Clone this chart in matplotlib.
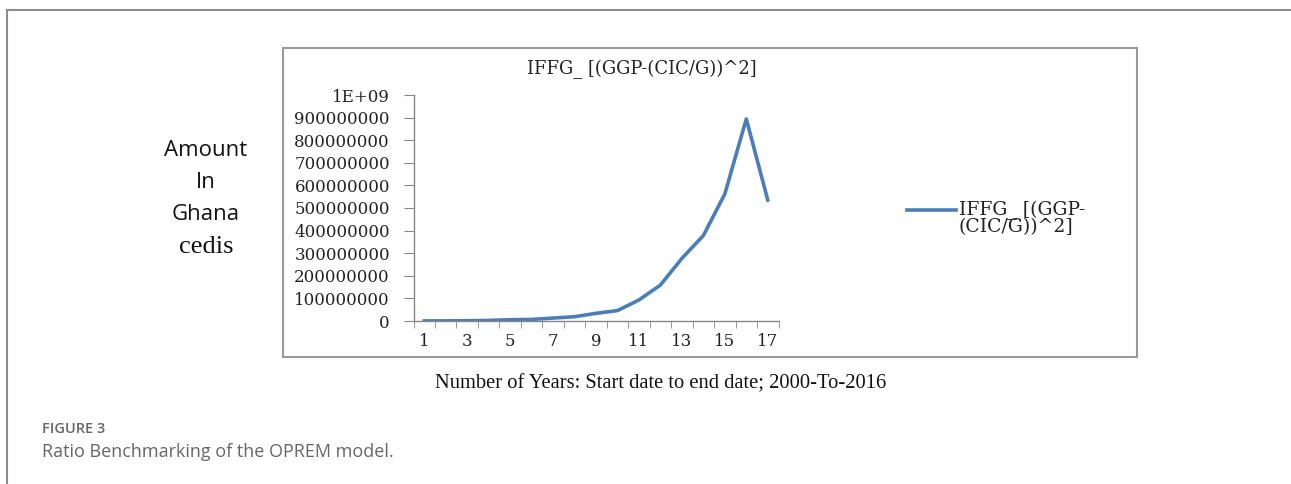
import matplotlib
matplotlib.use("Agg")
from matplotlib import pyplot as plt
from matplotlib.patches import Rectangle
from matplotlib.lines import Line2D

# data
years = list(range(1, 18))
iffg = [0.3e6, 0.6e6, 1.2e6, 2.5e6, 5.5e6, 7e6, 13e6, 19e6, 34e6, 46e6,
        93e6, 159e6, 277e6, 378e6, 562e6, 894e6, 535e6]
y_ticks = [i * 100000000 for i in range(11)]
y_tick_labels = [str(v) for v in y_ticks[:-1]] + ["1E+09"]
x_tick_labels = [str(v) if v % 2 == 1 else "" for v in years]

series_name = "IFFG_ [(GGP-(CIC/G))^2]"
legend_name = "IFFG_ [(GGP-\n(CIC/G))^2]"

W, H = 1291, 484
fig = plt.figure(figsize=(W / 100, H / 100), dpi=100)
fig.patch.set_facecolor("white")


def fx(px):
    return px / W


def fy(py):
    return 1 - py / H


# outer frame (top and left edges)
fig.add_artist(Line2D([fx(7), 1], [fy(10), fy(10)], color="#8c8c8c", lw=1.5))
fig.add_artist(Line2D([fx(7), fx(7)], [fy(10), 0], color="#8c8c8c", lw=1.5))

# chart box
fig.add_artist(Rectangle((fx(283), fy(357)), fx(1137) - fx(283), fy(48) - fy(357),
                         fill=False, edgecolor="#999999", lw=1.5))

ax = fig.add_axes([fx(413.5), fy(321), fx(778.5) - fx(413.5), fy(95) - fy(321)])
ax.plot(years, iffg, color="#4a7ebb", lw=2.6, label=legend_name)
ax.set_xlim(0.5, 17.5)
ax.set_ylim(0, 1e9)

serif = ["DejaVu Serif"]
ax.set_yticks(y_ticks)
ax.set_yticklabels(y_tick_labels, family=serif, fontsize=12, color="#222222")
ax.set_xticks(years)
ax.set_xticklabels(x_tick_labels, family=serif, fontsize=12, color="#222222")
ax.set_xticks([v + 0.5 for v in [0] + years], minor=True)
ax.tick_params(axis="x", which="major", length=0, pad=9)
ax.tick_params(axis="x", which="minor", length=5, color="#888888", direction="out")
ax.tick_params(axis="y", length=7, color="#888888", pad=10)

for side in ["top", "right"]:
    ax.spines[side].set_visible(False)
for side in ["left", "bottom"]:
    ax.spines[side].set_color("#888888")
    ax.spines[side].set_linewidth(1)

fig.text(fx(642), fy(69), series_name, ha="center", va="center",
         family=serif, fontsize=13, color="#222222")

# legend drawn by hand next to the plot
fig.add_artist(Line2D([fx(907), fx(956)], [fy(210), fy(210)], color="#4a7ebb", lw=2.6))
fig.text(fx(959), fy(218), legend_name, ha="left", va="center",
         family=serif, fontsize=13.5, color="#222222", linespacing=0.85)

# y label
for txt, ypos, fam, size in [("Amount", 150, "Open Sans", 16), ("In", 183, "Open Sans", 16),
                             ("Ghana", 215, "Open Sans", 16), ("cedis", 247, "Liberation Serif", 19)]:
    fig.text(fx(206), fy(ypos), txt, ha="center", va="center", family=[fam],
             fontsize=size, color="#111111")

fig.text(fx(661), fy(384), "Number of Years: Start date to end date; 2000-To-2016",
         ha="center", va="center", family=["Liberation Serif"], fontsize=14.8, color="#111111")

fig.text(fx(42), fy(429), "FIGURE 3", ha="left", va="center", family=["Open Sans"],
         fontsize=10.5, fontweight="semibold", color="#666666")
fig.text(fx(42), fy(452), "Ratio Benchmarking of the OPREM model.", ha="left", va="center",
         family=["Open Sans"], fontsize=13, color="#666666")

fig.savefig("out.png", dpi=100)
